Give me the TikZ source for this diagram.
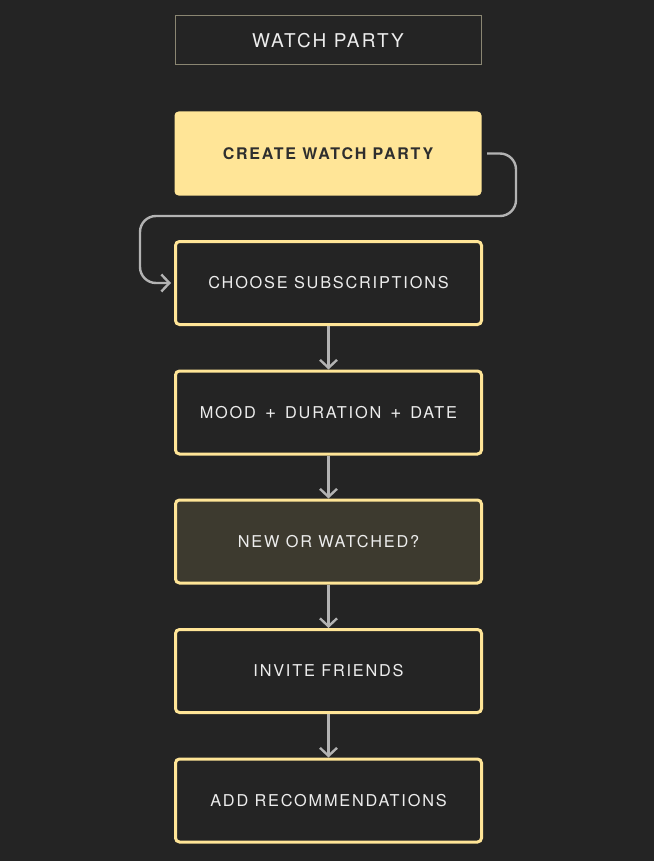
\documentclass[tikz,border=0pt]{standalone}
\usepackage{fontspec}
\newfontfamily\flowfont{TeX Gyre Heros}[LetterSpace=11]
\usetikzlibrary{arrows.meta}

\definecolor{bgdark}{HTML}{242424}
\definecolor{partyyellow}{HTML}{FFE597}
\definecolor{olivebox}{HTML}{3D3A2F}
\definecolor{titleline}{HTML}{8A8672}
\definecolor{arrowgrey}{HTML}{B3B3B3}
\definecolor{textlight}{HTML}{EDEDED}

\tikzset{
  stepbox/.style={draw=partyyellow, line width=3pt, rounded corners=4pt,
    minimum width=306pt, minimum height=83pt, fill=bgdark,
    text=textlight, font=\flowfont\fontsize{16.3}{19}\selectfont},
  flowarrow/.style={draw=arrowgrey, line width=2.4pt,
    -{Straight Barb[length=8pt,width=17pt,line width=2.4pt]}},
}

\begin{document}
\begin{tikzpicture}[x=1pt,y=-1pt]

\fill[bgdark] (0,0) rectangle (654,861);
\useasboundingbox (0,0) rectangle (654,861);

% title
\node[draw=titleline, line width=1pt, minimum width=306pt, minimum height=49pt,
  text=textlight, font=\flowfont\fontsize{19}{22}\selectfont] (title) at (328,40.5) {WATCH PARTY};

% steps
\node[stepbox, draw=none, fill=partyyellow, minimum width=307pt, minimum height=84pt,
  text=black!82, font=\flowfont\bfseries\fontsize{16}{19}\selectfont] (create) at (328,153.5) {CREATE WATCH PARTY};
\node[stepbox] (choose) at (328.5,283) {CHOOSE SUBSCRIPTIONS};
\node[stepbox] (mood) at (328.5,412.5) {MOOD\;\;{\fontsize{19}{19}\selectfont+}\;\;DURATION\;\;{\fontsize{19}{19}\selectfont+}\;\;DATE};
\node[stepbox, fill=olivebox] (neworwatched) at (328.5,541.5) {NEW OR WATCHED?};
\node[stepbox] (invite) at (328.5,671) {INVITE FRIENDS};
\node[stepbox] (addrec) at (328.5,800.5) {ADD RECOMMENDATIONS};

% loop from create to choose
\coordinate (loopright) at (516,216);
\coordinate (loopleft) at (140,216);
\draw[flowarrow, rounded corners=16pt] ([xshift=4pt]create.east) -| (loopright)
  -- (loopleft) |- ([xshift=-3pt]choose.west);

\draw[flowarrow] (choose) -- (mood);
\draw[flowarrow] (mood) -- (neworwatched);
\draw[flowarrow] (neworwatched) -- (invite);
\draw[flowarrow] (invite) -- (addrec);

\end{tikzpicture}
\end{document}
